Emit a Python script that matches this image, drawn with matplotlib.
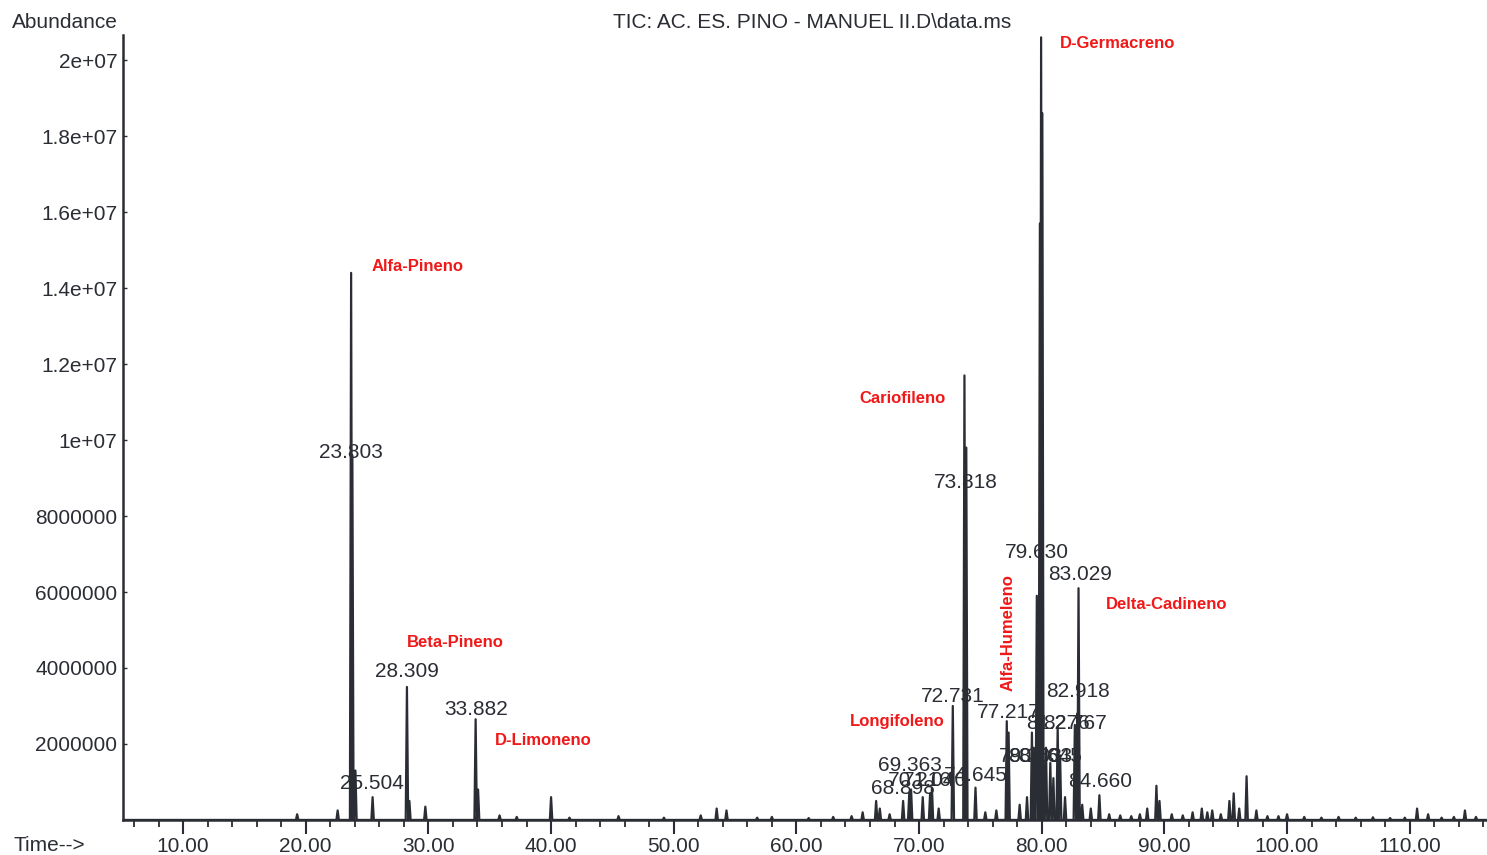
import matplotlib.pyplot as plt
from matplotlib.ticker import MultipleLocator

plt.rcParams['font.family'] = ['Liberation Sans', 'DejaVu Sans']

# retention time (min) and abundance of each peak in the TIC
peak_time = [19.3, 22.6, 23.70, 23.80, 24.05, 25.45, 28.25, 28.45, 29.75, 33.85, 34.05,
             35.8, 37.2, 40.0, 41.5, 45.5, 49.2, 52.2, 53.5, 54.3, 56.8, 58.0, 61.0, 63.0,
             64.5, 65.4, 66.5, 66.8, 67.6, 68.7, 69.2, 69.35, 70.3, 70.9, 71.05, 71.6,
             72.75, 73.7, 73.85, 74.6, 75.4, 76.3, 77.15, 77.3, 78.2, 78.8, 79.2, 79.35,
             79.6, 79.85, 79.95, 80.05, 80.35, 80.7, 80.95, 81.3, 81.5, 81.9, 82.7, 82.9,
             83.0, 83.3, 84.0, 84.7, 85.5, 86.4, 87.3, 88.0, 88.6, 89.35, 89.6, 90.6, 91.5,
             92.3, 93.05, 93.5, 93.9, 94.6, 95.3, 95.65, 96.1, 96.7, 97.5, 98.4, 99.3,
             100.0, 101.4, 102.8, 104.2, 105.6, 107.0, 108.4, 109.6, 110.6, 111.5, 112.6,
             113.6, 114.5, 115.4]
peak_height = [0.15, 0.25, 14.4, 9.6, 1.3, 0.6, 3.5, 0.5, 0.35, 2.65, 0.8,
               0.12, 0.08, 0.6, 0.06, 0.1, 0.06, 0.12, 0.3, 0.25, 0.06, 0.08, 0.05, 0.08,
               0.1, 0.2, 0.5, 0.3, 0.15, 0.5, 0.7, 0.8, 0.6, 0.7, 0.85, 0.3,
               3.0, 11.7, 9.8, 0.85, 0.2, 0.25, 2.6, 2.3, 0.4, 0.6, 2.3, 1.9,
               5.9, 15.7, 20.6, 18.6, 1.9, 1.5, 1.1, 2.45, 1.7, 0.6, 2.5, 2.8,
               6.1, 0.4, 0.3, 0.65, 0.15, 0.12, 0.1, 0.15, 0.3, 0.9, 0.5, 0.15, 0.12,
               0.2, 0.3, 0.2, 0.25, 0.15, 0.5, 0.7, 0.3, 1.15, 0.25, 0.1, 0.1,
               0.15, 0.08, 0.06, 0.08, 0.06, 0.07, 0.05, 0.06, 0.3, 0.15, 0.06,
               0.08, 0.25, 0.08]

# retention time labels printed by the integrator
rt_text = ['23.803', '25.504', '28.309', '33.882', '68.898', '69.363', '70.216', '71.040',
           '74.645', '72.731', '73.818', '77.217', '79.203', '80.603', '81.645', '81.276',
           '82.767', '82.918', '79.630', '83.029', '84.660']
rt_x = [23.69, 25.4, 28.26, 33.88, 68.7, 69.25, 70.1, 71.3, 74.6, 72.75, 73.8, 77.3,
        79.1, 79.9, 80.7, 81.3, 82.7, 82.94, 79.6, 83.1, 84.73]
rt_y = [9.68, 0.95, 3.9, 2.92, 0.82, 1.42, 1.05, 1.05, 1.18, 3.26, 8.87, 2.84,
        1.66, 1.66, 1.66, 2.53, 2.53, 3.37, 7.03, 6.45, 1.0]

# compound names (red)
cmp_text = ['Alfa-Pineno', 'Beta-Pineno', 'D-Limoneno', 'Cariofileno', 'Longifoleno',
            'D-Germacreno', 'Delta-Cadineno']
cmp_x = [25.4, 28.26, 35.43, 65.1, 64.4, 81.47, 85.2]
cmp_y = [14.58, 4.66, 2.1, 11.1, 2.58, 20.45, 5.66]

scale = 1e6
half_w = 0.1

# build the trace: each peak is a narrow spike on the baseline
order = sorted(range(len(peak_time)), key=lambda i: peak_time[i])
xs = [5.1]
ys = [0.0]
for i in order:
    t = peak_time[i]
    h = peak_height[i] * scale
    xs += [t - half_w, t, t + half_w]
    ys += [0.0, h, 0.0]
xs.append(116.3)
ys.append(0.0)

fig = plt.figure(figsize=(14.87, 8.55), dpi=100)
ax = fig.add_axes([0.0827, 0.041, 0.9173, 0.918])
ax.plot(xs, ys, color='#2a2d33', lw=1.6)

ax.set_xlim(5.1, 116.3)
ax.set_ylim(0, 20.66e6)
for s in ['top', 'right']:
    ax.spines[s].set_visible(False)
ax.spines['left'].set_color('#2a2d33')
ax.spines['bottom'].set_color('#2a2d33')
ax.spines['left'].set_linewidth(1.8)
ax.spines['bottom'].set_linewidth(1.8)

ax.xaxis.set_major_locator(MultipleLocator(10))
ax.xaxis.set_minor_locator(MultipleLocator(2))
ax.set_xticks([10, 20, 30, 40, 50, 60, 70, 80, 90, 100, 110])
ax.set_xticklabels(['%.2f' % v for v in [10, 20, 30, 40, 50, 60, 70, 80, 90, 100, 110]])
ax.tick_params(axis='x', which='major', direction='out', length=10, width=1.5,
               labelsize=15, colors='#2a2d33', pad=2)
ax.tick_params(axis='x', which='minor', direction='out', length=5, width=1.3, colors='#2a2d33')

yt = [2e6, 4e6, 6e6, 8e6, 1e7, 1.2e7, 1.4e7, 1.6e7, 1.8e7, 2e7]
ylab = ['2000000', '4000000', '6000000', '8000000', '1e+07', '1.2e+07', '1.4e+07',
        '1.6e+07', '1.8e+07', '2e+07']
ax.set_yticks(yt)
ax.set_yticklabels(ylab)
ax.tick_params(axis='y', direction='in', length=3, width=1, labelsize=15,
               colors='#2a2d33', pad=4)

for t, x, y in zip(rt_text, rt_x, rt_y):
    ax.text(x, y * scale, t, ha='center', va='center', fontsize=15, color='#2a2d33')

for t, x, y in zip(cmp_text, cmp_x, cmp_y):
    ax.text(x, y * scale, t, ha='left', va='center', fontsize=12, color='#f01818',
            fontweight='bold')
ax.text(77.24, 4.92 * scale, 'Alfa-Humeleno', ha='center', va='center', rotation=90,
        fontsize=12, color='#f01818', fontweight='bold')

fig.text(12 / 1487, 1 - 22 / 855, 'Abundance', ha='left', va='center', fontsize=15,
         color='#2a2d33')
fig.text(812 / 1487, 1 - 22 / 855, 'TIC: AC. ES. PINO - MANUEL II.D\\data.ms', ha='center',
         va='center', fontsize=15, color='#2a2d33')
fig.text(13 / 1487, 1 - 845 / 855, 'Time-->', ha='left', va='center', fontsize=15,
         color='#2a2d33')

fig.savefig('out.png', dpi=100, facecolor='white')
